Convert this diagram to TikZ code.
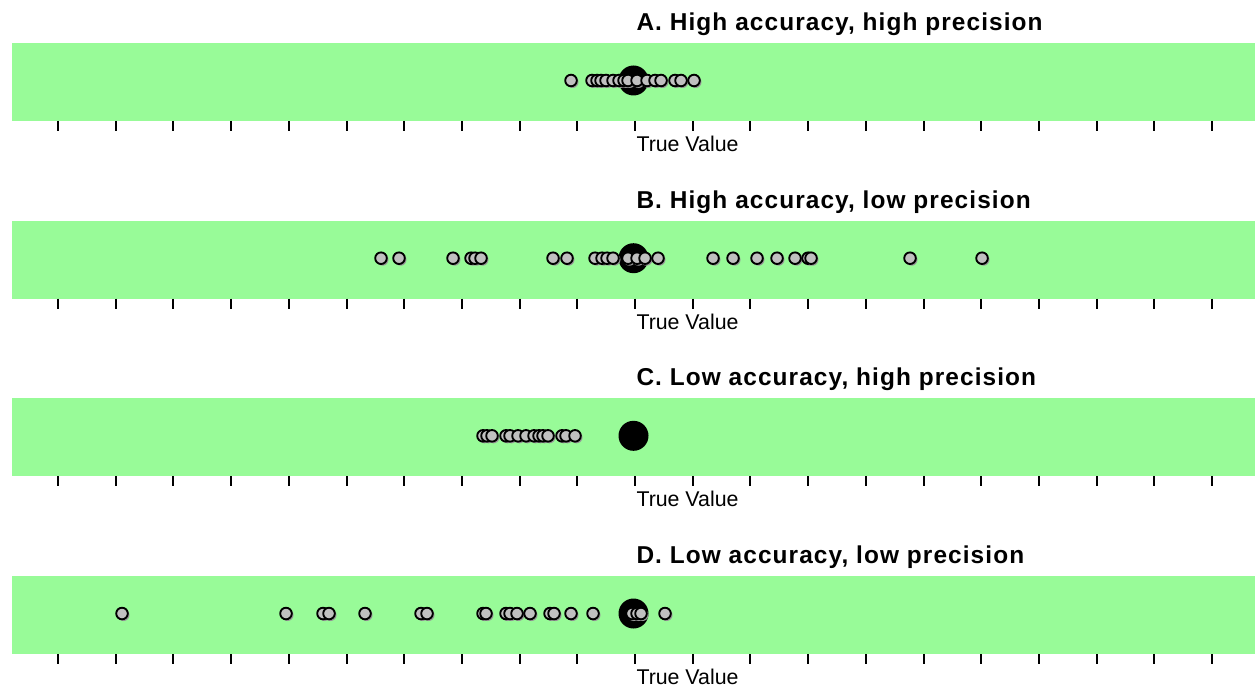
\documentclass[tikz,border=0pt]{standalone}
\usepackage{fontspec}
\setmainfont{Liberation Sans}
\newfontfamily\titlefont{Liberation Sans}[LetterSpace=4.5]

\definecolor{bandgreen}{RGB}{152,251,152}
\definecolor{dotgray}{RGB}{192,192,192}
\definecolor{shadowgray}{RGB}{150,150,150}

\tikzset{every picture/.style={line width=0.75pt}}
\tikzset{
  band/.style={fill=bandgreen},
  tickmark/.style={line width=1.5pt},
  truedot/.style={fill=black},
  shotdot/.style={draw=black, fill=dotgray, line width=1.4pt},
  shotshadow/.style={fill=shadowgray},
  paneltitle/.style={anchor=base west, inner sep=0pt, font=\titlefont\bfseries\fontsize{18.3}{20}\selectfont},
  truelabel/.style={anchor=base west, inner sep=0pt, font=\fontsize{16}{18}\selectfont}
}

\begin{document}
\begin{tikzpicture}[x=0.75pt,y=0.75pt,yscale=-1,xscale=1]
\useasboundingbox (0,0) rectangle (1255,688);

%Panels: band, ticks, title, label
\foreach \p/\oy/\ttl in {A/0/{A. High accuracy, high precision},B/177.7/{B. High accuracy, low precision},C/355.3/{C. Low accuracy, high precision},D/533/{D. Low accuracy, low precision}}{
  %Shape: Rectangle
  \draw [band, draw=none] (12,43+\oy) rectangle (1255,121+\oy) ;
  %Straight Lines
  \foreach \k in {0,...,20}
    \draw [tickmark] (58+57.7*\k,121+\oy) -- (58+57.7*\k,131+\oy) ;
  %Shape: Circle
  \fill [truedot] (633.5,80.5+\oy) circle (15) ;
  % Text Node
  \node [paneltitle] (title\p) at (636,30.5+\oy) {\ttl};
  % Text Node
  \node [truelabel] (true\p) at (636,151.5+\oy) {True Value};
}

%Shots A
\foreach \x in {571,592,597,601,606,613,619,624,628,637,647,655,661,675,681,694}{
  \fill [shotshadow] (\x+1.5,82) circle (6) ;
  \draw [shotdot] (\x,80.5) circle (5.8) ;
}
%Shots B
\foreach \x in {381,399,453,471,475,481,553,567,595,602,607,613,628,637,645,658,713,733,757,777,795,808,811,910,982}{
  \fill [shotshadow] (\x+1.5,259.7) circle (6) ;
  \draw [shotdot] (\x,258.2) circle (5.8) ;
}
%Shots C
\foreach \x in {483,487,492,506,510,518,526,534,539,543,548,562,566,575}{
  \fill [shotshadow] (\x+1.5,437.3) circle (6) ;
  \draw [shotdot] (\x,435.8) circle (5.8) ;
}
%Shots D
\foreach \x in {122,286,323,329,365,421,427,483,486,506,510,517,530,550,554,571,593,632,637,641,665}{
  \fill [shotshadow] (\x+1.5,615) circle (6) ;
  \draw [shotdot] (\x,613.5) circle (5.8) ;
}
\end{tikzpicture}
\end{document}
